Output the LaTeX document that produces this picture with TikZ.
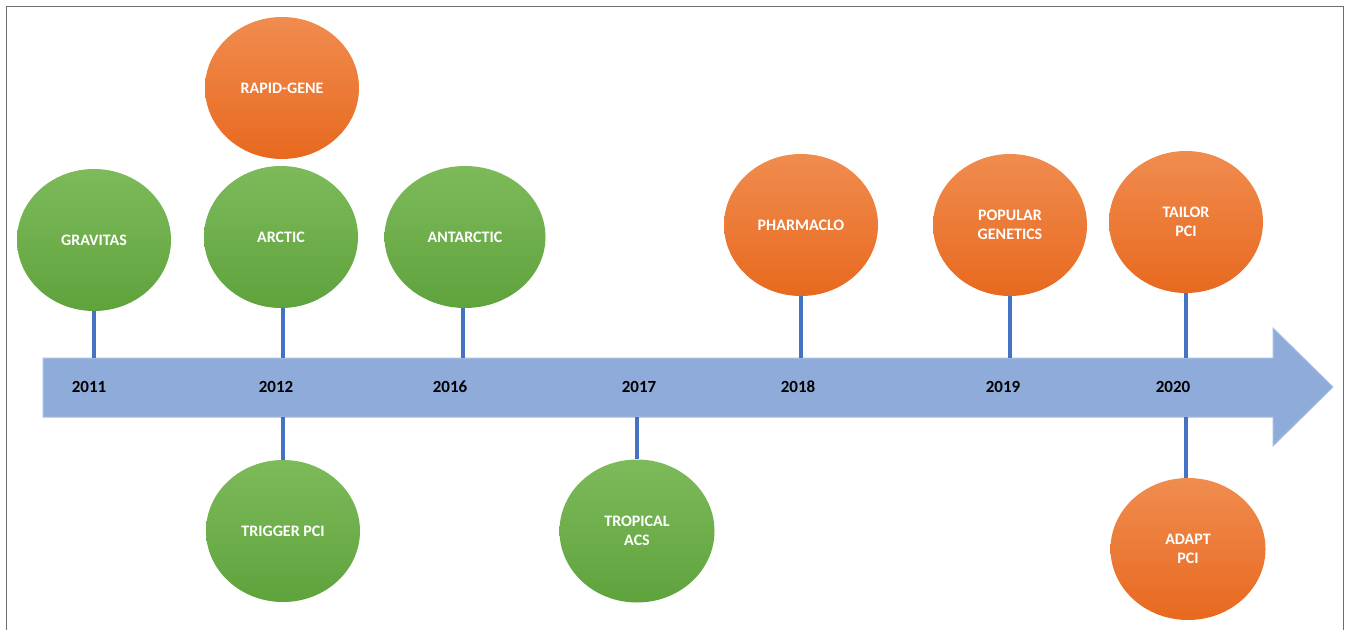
\documentclass[tikz,border=0pt]{standalone}
\usepackage{fontspec}
\setmainfont{Carlito}
\usetikzlibrary{shapes.geometric,shadings}
\definecolor{greenTop}{HTML}{7DBA5A}
\definecolor{greenBot}{HTML}{5FA33D}
\definecolor{orangeTop}{HTML}{F08C4F}
\definecolor{orangeBot}{HTML}{E8691F}
\definecolor{bandFill}{HTML}{8FABDA}
\definecolor{bandEdge}{HTML}{A9BFE3}
\definecolor{stemBlue}{HTML}{4472C4}
\definecolor{frameGray}{HTML}{6E6E6E}
\tikzset{
  bubble/.style={ellipse, minimum width=154pt, minimum height=142pt, inner sep=0pt,
    text=white, font=\fontsize{16}{19}\selectfont\bfseries, align=center},
  greenbubble/.style={bubble, top color=greenTop, bottom color=greenBot, shading angle=0},
  orangebubble/.style={bubble, top color=orangeTop, bottom color=orangeBot, shading angle=0},
  year/.style={font=\fontsize{17}{20}\selectfont\bfseries, text=black, inner sep=0pt},
  stem/.style={draw=stemBlue, line width=3.2pt},
}
\begin{document}
\begin{tikzpicture}[x=1pt,y=-1pt]
\useasboundingbox (0,0) rectangle (1346,629);
% outer frame (open at the bottom)
\draw[frameGray, line width=1pt] (6,640) -- (6,6) -- (1343,6) -- (1343,640);

% time band with arrow head
\draw[fill=bandFill, draw=bandEdge, line width=1pt]
  (43,358) -- (1273,358) -- (1273,328) -- (1333,387) -- (1273,446) -- (1273,417) -- (43,417) -- cycle;

% anchor points on the band
\coordinate (t2011u) at (94,358);
\coordinate (t2012u) at (283,358);
\coordinate (t2012d) at (283,417);
\coordinate (t2016u) at (463,358);
\coordinate (t2017d) at (637,417);
\coordinate (t2018u) at (801,358);
\coordinate (t2019u) at (1010,358);
\coordinate (t2020u) at (1186,358);
\coordinate (t2020d) at (1186,417);

% bubbles
\node[greenbubble]  (gravitas)  at (94,240)   {GRAVITAS};
\node[orangebubble] (rapid)     at (282,88)   {RAPID-GENE};
\node[greenbubble]  (arctic)    at (281,237)  {ARCTIC};
\node[greenbubble, minimum width=161pt] (antarctic) at (465,237) {ANTARCTIC};
\node[orangebubble] (pharmaclo) at (801,225)  {PHARMACLO};
\node[orangebubble] (popular)   at (1010,225) {POPULAR\\GENETICS};
\node[orangebubble] (tailor)    at (1186,222) {TAILOR\\PCI};
\node[greenbubble]  (trigger)   at (283,531)  {TRIGGER PCI};
\node[greenbubble, minimum width=155pt, minimum height=143pt] (tropical) at (637,531) {TROPICAL\\ACS};
\node[orangebubble, minimum width=155pt] (adapt) at (1188,549) {ADAPT\\PCI};

% stems joining bubbles to the band
\draw[stem] (gravitas.south) -- (t2011u);
\draw[stem] (arctic.south -| t2012u) -- (t2012u);
\draw[stem] (antarctic.south -| t2016u) -- (t2016u);
\draw[stem] (pharmaclo.south) -- (t2018u);
\draw[stem] (popular.south) -- (t2019u);
\draw[stem] (tailor.south) -- (t2020u);
\draw[stem] (t2012d) -- (trigger.north);
\draw[stem] (t2017d) -- (tropical.north);
\draw[stem] (t2020d) -- (adapt.north -| t2020d);

% year labels
\node[year] (y2011) at (89,387)   {2011};
\node[year] (y2012) at (276,387)  {2012};
\node[year] (y2016) at (450,387)  {2016};
\node[year] (y2017) at (639,387)  {2017};
\node[year] (y2018) at (798,387)  {2018};
\node[year] (y2019) at (1003,387) {2019};
\node[year] (y2020) at (1173,387) {2020};
\end{tikzpicture}
\end{document}
